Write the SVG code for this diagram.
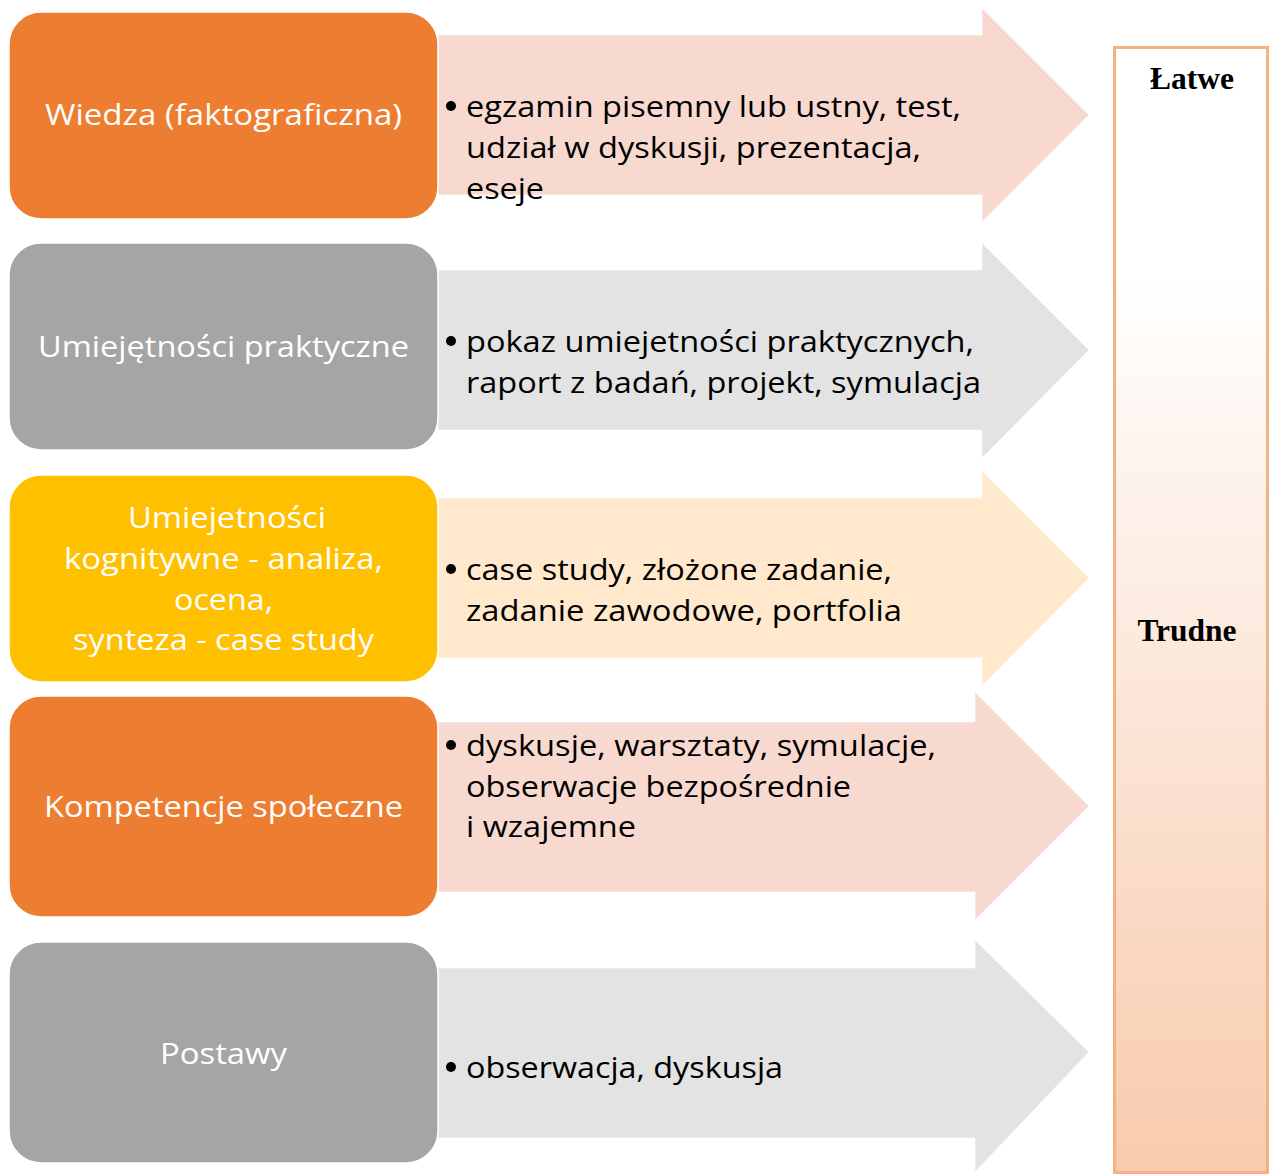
<svg xmlns="http://www.w3.org/2000/svg" width="1269" height="1174" viewBox="0 0 1269 1174">
<defs>
<linearGradient id="bar" x1="0" y1="0" x2="0" y2="1">
<stop offset="0" stop-color="#FFFFFF"/>
<stop offset="0.2" stop-color="#FFFFFF"/>
<stop offset="1" stop-color="#F8CBAD"/>
</linearGradient>
</defs>
<style>
.box{stroke:#FFFFFF;stroke-width:1.5}
.orange{fill:#ED7D31}
.gray{fill:#A5A5A5}
.yellow{fill:#FFC000}
.arr{stroke:#FFFFFF;stroke-opacity:0.6;stroke-width:1}
.pink{fill:#F8D9D0}
.lgray{fill:#E3E3E3}
.peach{fill:#FFE8CC}
.bt{font-family:"Open Sans","Liberation Sans",sans-serif;font-size:30px;fill:#FFFFFF;text-anchor:middle}
.at{font-family:"Open Sans","Liberation Sans",sans-serif;font-size:30px;fill:#000000}
.bar{font-family:"Liberation Serif",serif;font-size:31.5px;font-weight:bold;fill:#000000;text-anchor:middle}
</style>
<g id="connectors">
<polygon class="arr pink" points="438,35 982,35 982,8 1089,115 982,222 982,195 438,195"/>
<polygon class="arr lgray" points="438,270 982,270 982,243 1089,350 982,458 982,430 438,430"/>
<polygon class="arr peach" points="438,498 982,498 982,471 1089,578 982,686 982,658 438,658"/>
<polygon class="arr pink" points="438,722 975,722 975,692 1089,806 975,920 975,892 438,892"/>
<polygon class="arr lgray" points="438,968 975,968 975,940 1089,1052 975,1172 975,1138 438,1138"/>
</g>
<g id="arrow-text-1">
<circle cx="451" cy="106" r="5"/>
<text class="at" x="466" y="117" textLength="495" lengthAdjust="spacingAndGlyphs">egzamin pisemny lub ustny, test,</text>
<text class="at" x="466" y="158" textLength="455" lengthAdjust="spacingAndGlyphs">udział w dyskusji, prezentacja,</text>
<text class="at" x="466" y="199" textLength="78" lengthAdjust="spacingAndGlyphs">eseje</text>
</g>
<g id="arrow-text-2">
<circle cx="451" cy="341" r="5"/>
<text class="at" x="466" y="352" textLength="508" lengthAdjust="spacingAndGlyphs">pokaz umiejetności praktycznych,</text>
<text class="at" x="466" y="393" textLength="515" lengthAdjust="spacingAndGlyphs">raport z badań, projekt, symulacja</text>
</g>
<g id="arrow-text-3">
<circle cx="451" cy="569" r="5"/>
<text class="at" x="466" y="580" textLength="426" lengthAdjust="spacingAndGlyphs">case study, złożone zadanie,</text>
<text class="at" x="466" y="621" textLength="436" lengthAdjust="spacingAndGlyphs">zadanie zawodowe, portfolia</text>
</g>
<g id="arrow-text-4">
<circle cx="451" cy="745" r="5"/>
<text class="at" x="466" y="756" textLength="470" lengthAdjust="spacingAndGlyphs">dyskusje, warsztaty, symulacje,</text>
<text class="at" x="466" y="797" textLength="385" lengthAdjust="spacingAndGlyphs">obserwacje bezpośrednie</text>
<text class="at" x="466" y="837" textLength="170" lengthAdjust="spacingAndGlyphs">i wzajemne</text>
</g>
<g id="arrow-text-5">
<circle cx="451" cy="1067" r="5"/>
<text class="at" x="466" y="1078" textLength="317" lengthAdjust="spacingAndGlyphs">obserwacja, dyskusja</text>
</g>
<g id="node-wiedza">
<rect class="box orange" x="9" y="12" width="429" height="207" rx="32"/>
<text class="bt" x="223.5" y="125" textLength="357" lengthAdjust="spacingAndGlyphs">Wiedza (faktograficzna)</text>
</g>
<g id="node-umiejetnosci-praktyczne">
<rect class="box gray" x="9" y="243" width="429" height="207" rx="32"/>
<text class="bt" x="223.5" y="357" textLength="371" lengthAdjust="spacingAndGlyphs">Umiejętności praktyczne</text>
</g>
<g id="node-umiejetnosci-kognitywne">
<rect class="box yellow" x="9" y="475" width="429" height="207" rx="32"/>
<text class="bt" x="227" y="528" textLength="198" lengthAdjust="spacingAndGlyphs">Umiejetności</text>
<text class="bt" x="223.5" y="569" textLength="319" lengthAdjust="spacingAndGlyphs">kognitywne - analiza,</text>
<text class="bt" x="223.5" y="610" textLength="99" lengthAdjust="spacingAndGlyphs">ocena,</text>
<text class="bt" x="223.5" y="650" textLength="301" lengthAdjust="spacingAndGlyphs">synteza - case study</text>
</g>
<g id="node-kompetencje">
<rect class="box orange" x="9" y="696" width="429" height="221" rx="32"/>
<text class="bt" x="223.5" y="817" textLength="359" lengthAdjust="spacingAndGlyphs">Kompetencje społeczne</text>
</g>
<g id="node-postawy">
<rect class="box gray" x="9" y="942" width="429" height="221" rx="32"/>
<text class="bt" x="223.5" y="1064" textLength="127" lengthAdjust="spacingAndGlyphs">Postawy</text>
</g>
<g id="node-scale">
<rect x="1114.5" y="47.5" width="153" height="1125" fill="url(#bar)" stroke="#F4B183" stroke-width="3"/>
<text class="bar" x="1192" y="89">Łatwe</text>
<text class="bar" x="1187" y="641">Trudne</text>
</g>
</svg>
